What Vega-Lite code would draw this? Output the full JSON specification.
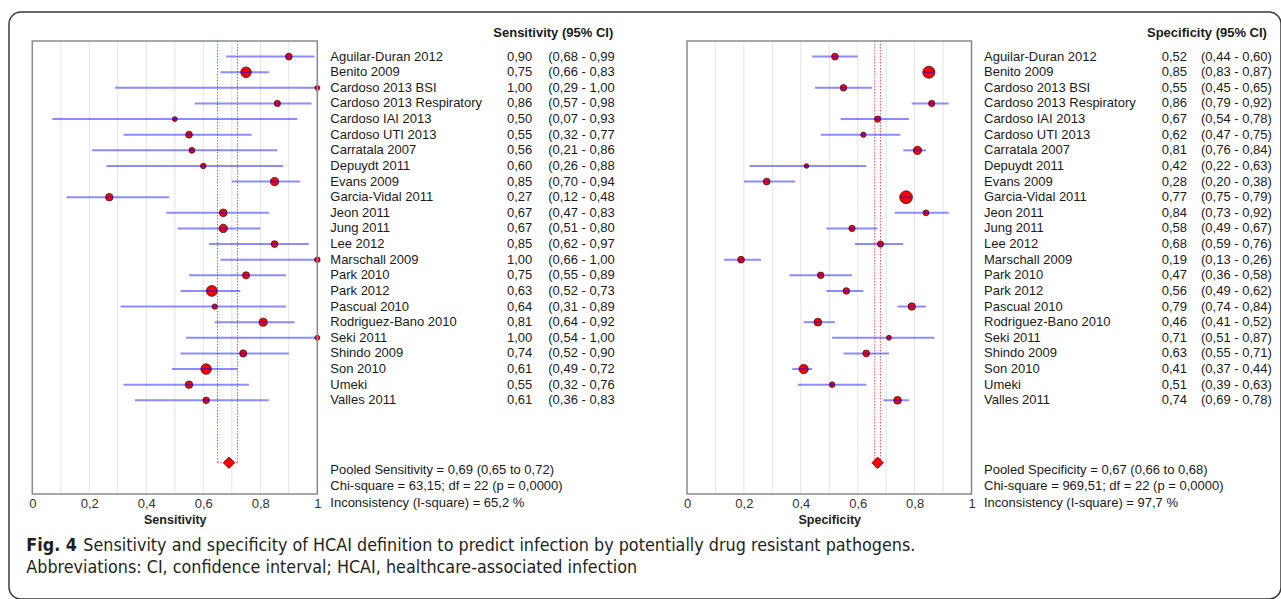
{
  "$schema": "https://vega.github.io/schema/vega-lite/v6.json",
  "autosize": "none",
  "width": 1272,
  "height": 587,
  "padding": {"left": 9, "top": 12, "right": 0, "bottom": 0},
  "background": "white",
  "config": {
    "view": {"stroke": "#3a3a3a", "strokeWidth": 1.5, "cornerRadius": 12},
    "locale": {"number": {"decimal": ",", "thousands": ".", "grouping": [3], "currency": ["", ""]}},
    "font": "Liberation Sans",
    "text": {"font": "Liberation Sans", "fontSize": 13, "color": "#1a1a1a"}
  },
  "datasets": {
    "sens": [
      {"study": "Aguilar-Duran 2012", "est": 0.90, "lo": 0.68, "hi": 0.99, "weight": 53},
      {"study": "Benito 2009", "est": 0.75, "lo": 0.66, "hi": 0.83, "weight": 128},
      {"study": "Cardoso 2013 BSI", "est": 1.00, "lo": 0.29, "hi": 1.00, "weight": 28},
      {"study": "Cardoso 2013 Respiratory", "est": 0.86, "lo": 0.57, "hi": 0.98, "weight": 45},
      {"study": "Cardoso IAI 2013", "est": 0.50, "lo": 0.07, "hi": 0.93, "weight": 28},
      {"study": "Cardoso UTI 2013", "est": 0.55, "lo": 0.32, "hi": 0.77, "weight": 53},
      {"study": "Carratala 2007", "est": 0.56, "lo": 0.21, "hi": 0.86, "weight": 40},
      {"study": "Depuydt 2011", "est": 0.60, "lo": 0.26, "hi": 0.88, "weight": 36},
      {"study": "Evans 2009", "est": 0.85, "lo": 0.70, "hi": 0.94, "weight": 81},
      {"study": "Garcia-Vidal 2011", "est": 0.27, "lo": 0.12, "hi": 0.48, "weight": 64},
      {"study": "Jeon 2011", "est": 0.67, "lo": 0.47, "hi": 0.83, "weight": 69},
      {"study": "Jung 2011", "est": 0.67, "lo": 0.51, "hi": 0.80, "weight": 81},
      {"study": "Lee 2012", "est": 0.85, "lo": 0.62, "hi": 0.97, "weight": 53},
      {"study": "Marschall 2009", "est": 1.00, "lo": 0.66, "hi": 1.00, "weight": 36},
      {"study": "Park 2010", "est": 0.75, "lo": 0.55, "hi": 0.89, "weight": 59},
      {"study": "Park 2012", "est": 0.63, "lo": 0.52, "hi": 0.73, "weight": 137},
      {"study": "Pascual 2010", "est": 0.64, "lo": 0.31, "hi": 0.89, "weight": 32},
      {"study": "Rodriguez-Bano 2010", "est": 0.81, "lo": 0.64, "hi": 0.92, "weight": 76},
      {"study": "Seki 2011", "est": 1.00, "lo": 0.54, "hi": 1.00, "weight": 28},
      {"study": "Shindo 2009", "est": 0.74, "lo": 0.52, "hi": 0.90, "weight": 59},
      {"study": "Son 2010", "est": 0.61, "lo": 0.49, "hi": 0.72, "weight": 128},
      {"study": "Umeki", "est": 0.55, "lo": 0.32, "hi": 0.76, "weight": 64},
      {"study": "Valles 2011", "est": 0.61, "lo": 0.36, "hi": 0.83, "weight": 49}
    ],
    "spec": [
      {"study": "Aguilar-Duran 2012", "est": 0.52, "lo": 0.44, "hi": 0.60, "weight": 53},
      {"study": "Benito 2009", "est": 0.85, "lo": 0.83, "hi": 0.87, "weight": 169},
      {"study": "Cardoso 2013 BSI", "est": 0.55, "lo": 0.45, "hi": 0.65, "weight": 49},
      {"study": "Cardoso 2013 Respiratory", "est": 0.86, "lo": 0.79, "hi": 0.92, "weight": 45},
      {"study": "Cardoso IAI 2013", "est": 0.67, "lo": 0.54, "hi": 0.78, "weight": 45},
      {"study": "Cardoso UTI 2013", "est": 0.62, "lo": 0.47, "hi": 0.75, "weight": 32},
      {"study": "Carratala 2007", "est": 0.81, "lo": 0.76, "hi": 0.84, "weight": 81},
      {"study": "Depuydt 2011", "est": 0.42, "lo": 0.22, "hi": 0.63, "weight": 25},
      {"study": "Evans 2009", "est": 0.28, "lo": 0.20, "hi": 0.38, "weight": 53},
      {"study": "Garcia-Vidal 2011", "est": 0.77, "lo": 0.75, "hi": 0.79, "weight": 188},
      {"study": "Jeon 2011", "est": 0.84, "lo": 0.73, "hi": 0.92, "weight": 40},
      {"study": "Jung 2011", "est": 0.58, "lo": 0.49, "hi": 0.67, "weight": 45},
      {"study": "Lee 2012", "est": 0.68, "lo": 0.59, "hi": 0.76, "weight": 45},
      {"study": "Marschall 2009", "est": 0.19, "lo": 0.13, "hi": 0.26, "weight": 53},
      {"study": "Park 2010", "est": 0.47, "lo": 0.36, "hi": 0.58, "weight": 49},
      {"study": "Park 2012", "est": 0.56, "lo": 0.49, "hi": 0.62, "weight": 49},
      {"study": "Pascual 2010", "est": 0.79, "lo": 0.74, "hi": 0.84, "weight": 64},
      {"study": "Rodriguez-Bano 2010", "est": 0.46, "lo": 0.41, "hi": 0.52, "weight": 69},
      {"study": "Seki 2011", "est": 0.71, "lo": 0.51, "hi": 0.87, "weight": 28},
      {"study": "Shindo 2009", "est": 0.63, "lo": 0.55, "hi": 0.71, "weight": 53},
      {"study": "Son 2010", "est": 0.41, "lo": 0.37, "hi": 0.44, "weight": 100},
      {"study": "Umeki", "est": 0.51, "lo": 0.39, "hi": 0.63, "weight": 36},
      {"study": "Valles 2011", "est": 0.74, "lo": 0.69, "hi": 0.78, "weight": 69}
    ],
    "pooledSens": [
      {"study": "Pooled", "est": 0.69, "lo": 0.65, "hi": 0.72, "footer": "Pooled Sensitivity = 0,69 (0,65 to 0,72)\nChi-square = 63,15; df =  22 (p = 0,0000)\nInconsistency (I-square) = 65,2 %"}
    ],
    "pooledSpec": [
      {"study": "Pooled", "est": 0.67, "lo": 0.66, "hi": 0.68, "footer": "Pooled Specificity = 0,67 (0,66 to 0,68)\nChi-square = 969,51; df =  22 (p = 0,0000)\nInconsistency (I-square) = 97,7 %"}
    ],
    "grid": [{"g": 0.1}, {"g": 0.2}, {"g": 0.3}, {"g": 0.4}, {"g": 0.5}, {"g": 0.6}, {"g": 0.7}, {"g": 0.8}, {"g": 0.9}],
    "one": [{}]
  },
  "resolve": {"scale": {"x": "independent"}},
  "layer": [
    {
      "data": {"name": "sens"},
      "transform": [
        {"calculate": "'(' + replace(format(datum.lo, '.2f'), '.', ',') + ' - ' + replace(format(datum.hi, '.2f'), '.', ',')", "as": "ci"}
      ],
      "layer": [
        {
          "data": {"name": "grid"},
          "transform": [{"calculate": "'_top'", "as": "top"}, {"calculate": "'_bottom'", "as": "bottom"}],
          "mark": {"type": "rule", "color": "#e4e4e4", "strokeWidth": 1},
          "encoding": {
            "x": {"field": "g", "type": "quantitative",
              "scale": {"domain": [0, 1], "range": [23.3, 308.3], "zero": false, "nice": false},
              "axis": {"orient": "bottom", "values": [0, 0.2, 0.4, 0.6, 0.8, 1], "format": "~g", "labelFlush": false, "labelOverlap": false,
                "domain": false, "ticks": false, "grid": false, "offset": -105, "labelPadding": 3,
                "labelFontSize": 13, "labelColor": "#333333", "labelFont": "Liberation Sans",
                "title": "Sensitivity", "titleFontSize": 12.5, "titleFont": "Liberation Sans", "titleFontWeight": "bold",
                "titleColor": "#222222", "titlePadding": 3}},
            "y": {"field": "top", "type": "nominal",
              "scale": {"type": "point", "padding": 0, "range": [29, 544.48],
                "domain": ["_top", "Aguilar-Duran 2012", "Benito 2009", "Cardoso 2013 BSI", "Cardoso 2013 Respiratory", "Cardoso IAI 2013", "Cardoso UTI 2013", "Carratala 2007", "Depuydt 2011", "Evans 2009", "Garcia-Vidal 2011", "Jeon 2011", "Jung 2011", "Lee 2012", "Marschall 2009", "Park 2010", "Park 2012", "Pascual 2010", "Rodriguez-Bano 2010", "Seki 2011", "Shindo 2009", "Son 2010", "Umeki", "Valles 2011", "_g1", "_g2", "_g3", "Pooled", "_g4", "_bottom", "_g5", "_g6", "_cap1", "_cap2"]},
              "axis": null},
            "y2": {"field": "bottom"}
          }
        },
        {
          "data": {"name": "pooledSens"},
          "transform": [{"calculate": "'_top'", "as": "top"}],
          "layer": [
            {"mark": {"type": "rule", "color": "#ff5a5a", "strokeWidth": 1.1, "strokeDash": [1.5, 1.5], "opacity": 1},
             "encoding": {"x": {"field": "lo", "type": "quantitative"}, "y": {"field": "top", "type": "nominal"}, "y2": {"field": "study"}}},
            {"mark": {"type": "rule", "color": "#ff5a5a", "strokeWidth": 1.1, "strokeDash": [1.5, 1.5], "opacity": 1},
             "encoding": {"x": {"field": "hi", "type": "quantitative"}, "y": {"field": "top", "type": "nominal"}, "y2": {"field": "study"}}},
            {"mark": {"type": "rule", "color": "#ff5a5a", "strokeWidth": 1.1, "strokeDash": [1.5, 1.5], "opacity": 1},
             "encoding": {"x": {"field": "lo", "type": "quantitative"}, "x2": {"field": "hi"}, "y": {"field": "study", "type": "nominal"}}},
            {"mark": {"type": "point", "shape": "diamond", "filled": true, "fill": "#ff0000", "stroke": "#5a0000", "strokeWidth": 0.8, "opacity": 1, "size": 130},
             "encoding": {"x": {"field": "est", "type": "quantitative"}, "y": {"field": "study", "type": "nominal"}}},
            {"mark": {"type": "text", "align": "left", "baseline": "top", "lineBreak": "\n", "lineHeight": 16.5, "dy": 1},
             "encoding": {"x": {"datum": 1.0456, "type": "quantitative"}, "y": {"field": "study", "type": "nominal"}, "text": {"field": "footer", "type": "nominal"}}}
          ]
        },
        {
          "mark": {"type": "circle", "fill": "#ff0000", "stroke": "#401010", "strokeWidth": 0.8, "opacity": 1},
          "encoding": {
            "x": {"field": "est", "type": "quantitative"},
            "y": {"field": "study", "type": "nominal"},
            "size": {"field": "weight", "type": "quantitative", "scale": {"domain": [0, 200], "range": [0, 172]}, "legend": null}
          }
        },
        {
          "mark": {"type": "rule", "color": "#0000ff", "strokeOpacity": 0.45, "strokeWidth": 2},
          "encoding": {
            "x": {"field": "lo", "type": "quantitative"},
            "x2": {"field": "hi"},
            "y": {"field": "study", "type": "nominal"}
          }
        },
        {
          "data": {"name": "one"},
          "transform": [{"calculate": "'_top'", "as": "top"}, {"calculate": "'_bottom'", "as": "bottom"}, {"calculate": "0", "as": "x0"}, {"calculate": "1", "as": "x1"}],
          "mark": {"type": "rect", "fill": "transparent", "stroke": "#8a8a8a", "strokeWidth": 1.5},
          "encoding": {"x": {"field": "x0", "type": "quantitative"}, "x2": {"field": "x1"}, "y": {"field": "top", "type": "nominal"}, "y2": {"field": "bottom"}}
        },
        {
          "mark": {"type": "text", "align": "left", "baseline": "middle"},
          "encoding": {"x": {"datum": 1.0456, "type": "quantitative"}, "y": {"field": "study", "type": "nominal"}, "text": {"field": "study", "type": "nominal"}}
        },
        {
          "mark": {"type": "text", "align": "right", "baseline": "middle"},
          "encoding": {"x": {"datum": 1.7544, "type": "quantitative"}, "y": {"field": "study", "type": "nominal"}, "text": {"field": "est", "type": "quantitative", "format": ".2f"}}
        },
        {
          "mark": {"type": "text", "align": "left", "baseline": "middle"},
          "encoding": {"x": {"datum": 1.8105, "type": "quantitative"}, "y": {"field": "study", "type": "nominal"}, "text": {"field": "ci", "type": "nominal"}}
        },
        {
          "data": {"name": "one"},
          "transform": [{"calculate": "'_top'", "as": "top"}],
          "mark": {"type": "text", "align": "left", "baseline": "middle", "fontWeight": "bold", "dy": -8, "text": "Sensitivity (95% CI)"},
          "encoding": {"x": {"datum": 1.6175, "type": "quantitative"}, "y": {"field": "top", "type": "nominal"}}
        },
        {
          "data": {"name": "one"},
          "transform": [{"calculate": "'_cap1'", "as": "row"}],
          "mark": {"type": "text", "align": "left", "baseline": "middle", "fontWeight": "bold", "dy": 5, "fontSize": 17.8,
                   "font": "Liberation Sans Narrow, Arial Narrow, DejaVu Sans Condensed, sans-serif", "color": "#231f20", "text": "Fig. 4"},
          "encoding": {"x": {"datum": -0.0211, "type": "quantitative"}, "y": {"field": "row", "type": "nominal"}}
        },
        {
          "data": {"name": "one"},
          "transform": [{"calculate": "'_cap1'", "as": "row"}],
          "mark": {"type": "text", "align": "left", "baseline": "middle", "dy": 5, "fontSize": 17.8,
                   "font": "Liberation Sans Narrow, Arial Narrow, DejaVu Sans Condensed, sans-serif", "color": "#231f20",
                   "text": "Sensitivity and specificity of HCAI definition to predict infection by potentially drug resistant pathogens."},
          "encoding": {"x": {"datum": 0.1789, "type": "quantitative"}, "y": {"field": "row", "type": "nominal"}}
        },
        {
          "data": {"name": "one"},
          "transform": [{"calculate": "'_cap2'", "as": "row"}],
          "mark": {"type": "text", "align": "left", "baseline": "middle", "dy": 12, "fontSize": 17.8,
                   "font": "Liberation Sans Narrow, Arial Narrow, DejaVu Sans Condensed, sans-serif", "color": "#231f20",
                   "text": "Abbreviations: CI, confidence interval; HCAI, healthcare-associated infection"},
          "encoding": {"x": {"datum": -0.0211, "type": "quantitative"}, "y": {"field": "row", "type": "nominal"}}
        }
      ]
    },
    {
      "data": {"name": "spec"},
      "transform": [
        {"calculate": "'(' + replace(format(datum.lo, '.2f'), '.', ',') + ' - ' + replace(format(datum.hi, '.2f'), '.', ',') + ')'", "as": "ci"}
      ],
      "layer": [
        {
          "data": {"name": "grid"},
          "transform": [{"calculate": "'_top'", "as": "top"}, {"calculate": "'_bottom'", "as": "bottom"}],
          "mark": {"type": "rule", "color": "#e4e4e4", "strokeWidth": 1},
          "encoding": {
            "x": {"field": "g", "type": "quantitative",
              "scale": {"domain": [0, 1], "range": [678, 962.5], "zero": false, "nice": false},
              "axis": {"orient": "bottom", "values": [0, 0.2, 0.4, 0.6, 0.8, 1], "format": "~g", "labelFlush": false, "labelOverlap": false,
                "domain": false, "ticks": false, "grid": false, "offset": -105, "labelPadding": 3,
                "labelFontSize": 13, "labelColor": "#333333", "labelFont": "Liberation Sans",
                "title": "Specificity", "titleFontSize": 12.5, "titleFont": "Liberation Sans", "titleFontWeight": "bold",
                "titleColor": "#222222", "titlePadding": 3}},
            "y": {"field": "top", "type": "nominal"},
            "y2": {"field": "bottom"}
          }
        },
        {
          "data": {"name": "pooledSpec"},
          "transform": [{"calculate": "'_top'", "as": "top"}],
          "layer": [
            {"mark": {"type": "rule", "color": "#ff5a5a", "strokeWidth": 1.1, "strokeDash": [1.5, 1.5], "opacity": 1},
             "encoding": {"x": {"field": "lo", "type": "quantitative"}, "y": {"field": "top", "type": "nominal"}, "y2": {"field": "study"}}},
            {"mark": {"type": "rule", "color": "#ff5a5a", "strokeWidth": 1.1, "strokeDash": [1.5, 1.5], "opacity": 1},
             "encoding": {"x": {"field": "hi", "type": "quantitative"}, "y": {"field": "top", "type": "nominal"}, "y2": {"field": "study"}}},
            {"mark": {"type": "rule", "color": "#ff5a5a", "strokeWidth": 1.1, "strokeDash": [1.5, 1.5], "opacity": 1},
             "encoding": {"x": {"field": "lo", "type": "quantitative"}, "x2": {"field": "hi"}, "y": {"field": "study", "type": "nominal"}}},
            {"mark": {"type": "point", "shape": "diamond", "filled": true, "fill": "#ff0000", "stroke": "#5a0000", "strokeWidth": 0.8, "opacity": 1, "size": 130},
             "encoding": {"x": {"field": "est", "type": "quantitative"}, "y": {"field": "study", "type": "nominal"}}},
            {"mark": {"type": "text", "align": "left", "baseline": "top", "lineBreak": "\n", "lineHeight": 16.5, "dy": 1},
             "encoding": {"x": {"datum": 1.0439, "type": "quantitative"}, "y": {"field": "study", "type": "nominal"}, "text": {"field": "footer", "type": "nominal"}}}
          ]
        },
        {
          "mark": {"type": "circle", "fill": "#ff0000", "stroke": "#401010", "strokeWidth": 0.8, "opacity": 1},
          "encoding": {
            "x": {"field": "est", "type": "quantitative"},
            "y": {"field": "study", "type": "nominal"},
            "size": {"field": "weight", "type": "quantitative", "legend": null}
          }
        },
        {
          "mark": {"type": "rule", "color": "#0000ff", "strokeOpacity": 0.45, "strokeWidth": 2},
          "encoding": {
            "x": {"field": "lo", "type": "quantitative"},
            "x2": {"field": "hi"},
            "y": {"field": "study", "type": "nominal"}
          }
        },
        {
          "data": {"name": "one"},
          "transform": [{"calculate": "'_top'", "as": "top"}, {"calculate": "'_bottom'", "as": "bottom"}, {"calculate": "0", "as": "x0"}, {"calculate": "1", "as": "x1"}],
          "mark": {"type": "rect", "fill": "transparent", "stroke": "#8a8a8a", "strokeWidth": 1.5},
          "encoding": {"x": {"field": "x0", "type": "quantitative"}, "x2": {"field": "x1"}, "y": {"field": "top", "type": "nominal"}, "y2": {"field": "bottom"}}
        },
        {
          "mark": {"type": "text", "align": "left", "baseline": "middle"},
          "encoding": {"x": {"datum": 1.0439, "type": "quantitative"}, "y": {"field": "study", "type": "nominal"}, "text": {"field": "study", "type": "nominal"}}
        },
        {
          "mark": {"type": "text", "align": "right", "baseline": "middle"},
          "encoding": {"x": {"datum": 1.7575, "type": "quantitative"}, "y": {"field": "study", "type": "nominal"}, "text": {"field": "est", "type": "quantitative", "format": ".2f"}}
        },
        {
          "mark": {"type": "text", "align": "left", "baseline": "middle"},
          "encoding": {"x": {"datum": 1.8067, "type": "quantitative"}, "y": {"field": "study", "type": "nominal"}, "text": {"field": "ci", "type": "nominal"}}
        },
        {
          "data": {"name": "one"},
          "transform": [{"calculate": "'_top'", "as": "top"}],
          "mark": {"type": "text", "align": "left", "baseline": "middle", "fontWeight": "bold", "dy": -8, "text": "Specificity (95% CI)"},
          "encoding": {"x": {"datum": 1.6169, "type": "quantitative"}, "y": {"field": "top", "type": "nominal"}}
        }
      ]
    }
  ]
}
